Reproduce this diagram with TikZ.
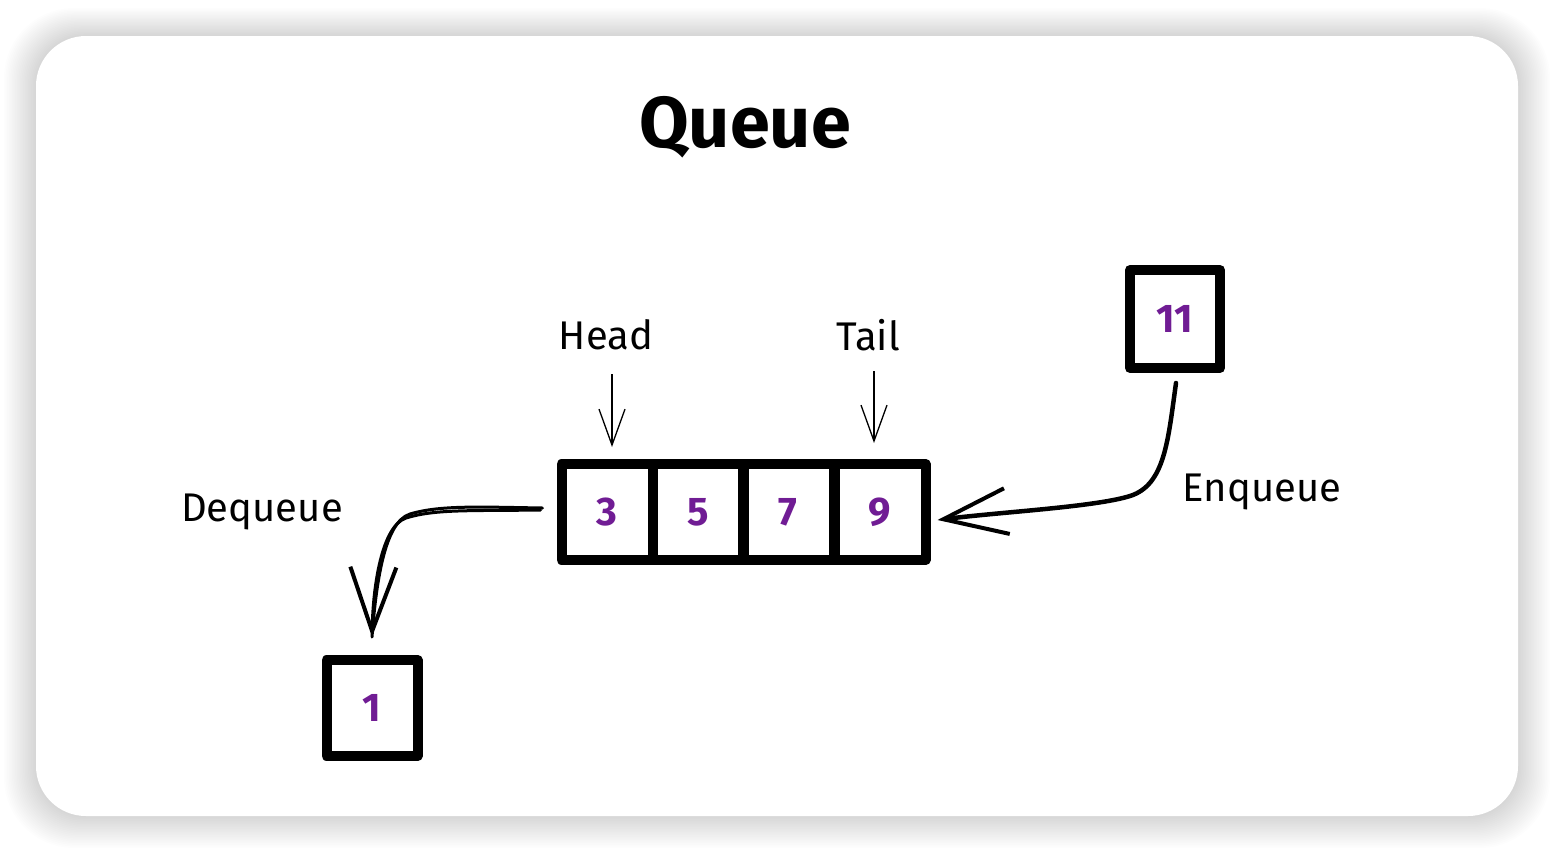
\documentclass[tikz,border=0pt]{standalone}
\usepackage{fontspec}
\setmainfont{Fira Sans}
\usetikzlibrary{arrows.meta,calc}
\definecolor{digitpurple}{RGB}{112,28,148}
\tikzset{
  cellbox/.style={draw, line width=10pt, minimum width=91pt, minimum height=96pt, inner sep=0pt, line join=round,
    font=\fontsize{40}{40}\selectfont\bfseries, text=digitpurple},
  lbl/.style={font=\fontsize{40}{44}\selectfont, inner sep=0pt},
  thinarrow/.style={line width=1.3pt, -{Straight Barb[length=36pt,width=26pt,line width=1.3pt]}},
  thickarrow/.style={line width=4.5pt, line cap=round, -{Straight Barb[length=64pt,width=46pt,line width=4pt]}},
}
\begin{document}
\begin{tikzpicture}[x=1pt,y=-1pt]
\useasboundingbox (0,0) rectangle (1554,852);
\fill[white] (0,0) rectangle (1554,852);
% shadow
\foreach \i in {1,...,20}{
  \fill[black, opacity=0.009, rounded corners={50pt+\i pt}] (36-\i*1.6,36-\i*1.4) rectangle (1518+\i*1.6,816+\i*1.6);
}
\fill[white, rounded corners=50pt] (36,36) rectangle (1518,816);

\node[font=\fontsize{72}{76}\selectfont\bfseries] (title) at (745,127) {Queue};

\node[cellbox] (c3) at (607,512) {3};
\node[cellbox] (c5) at (698,512) {5};
\node[cellbox] (c7) at (788,512) {7};
\node[cellbox] (c9) at (880,512) {9};

\node[cellbox, minimum width=90pt, minimum height=98pt] (e11) at (1175,319) {11};
\node[cellbox, minimum width=91pt, minimum height=96pt] (b1) at (372,708) {1};

\node[lbl] (head) at (606,335) {Head};
\node[lbl] (tail) at (868,335) {Tail};
\node[lbl] (enq) at (1262,492) {Enqueue};
\node[lbl] (deq) at (262,512) {Dequeue};

\draw[thinarrow] ($(c3.north |- head.south)+(5,24)$) -- ([xshift=5pt,yshift=12pt]c3.north);
\draw[thinarrow] ($(c9.north |- tail.south)+(-6,20)$) -- ([xshift=-6pt,yshift=16pt]c9.north);

% enqueue
\draw[thickarrow] ([xshift=1pt,yshift=-10pt]e11.south) .. controls (1168,440) and (1165,485) .. (1130,496)
   .. controls (1095,507) and (1000,512) .. ([shift={(7,8)}]c9.east);

% dequeue (double sketchy stroke)
\draw[line width=3pt, line cap=round] ([shift={(-14,-4)}]c3.west) .. controls (480,507) and (440,505) .. (410,514)
   .. controls (384,522) and (376,585) .. ([yshift=18pt]b1.north);
\draw[thickarrow, line width=3pt] ([shift={(-16,-2)}]c3.west) .. controls (470,511) and (435,509) .. (406,518)
   .. controls (382,526) and (373,585) .. ([yshift=18pt]b1.north);
\end{tikzpicture}
\end{document}
